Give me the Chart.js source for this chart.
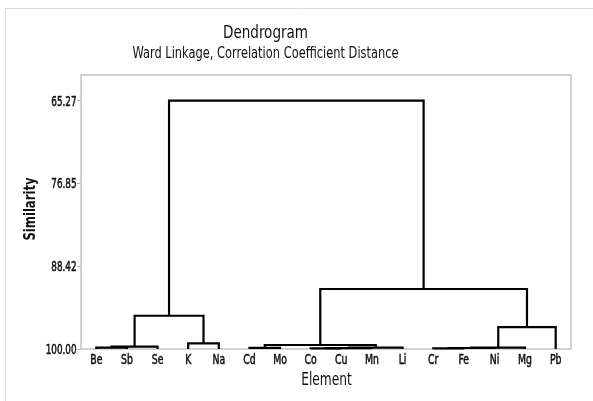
<!DOCTYPE html>
<html>
<head>
<meta charset="utf-8">
<script src="https://cdn.jsdelivr.net/npm/chart.js@4.4.1/dist/chart.umd.min.js"></script>
<style>
  html, body { margin: 0; padding: 0; background: #fff; }
  #wrap { width: 593px; height: 401px; position: relative; }
</style>
</head>
<body>
<div id="wrap"><canvas id="dendro"></canvas></div>
<script>
// leaves in plotted order
const leaves = ["Be", "Sb", "Se", "K", "Na", "Cd", "Mo", "Co", "Cu", "Mn", "Li", "Cr", "Fe", "Ni", "Mg", "Pb"];

// merge steps: node ids 0..15 are leaves, each merge creates node 16, 17, ...
const mergeLeft  = [0, 16, 3, 5, 7, 20, 21, 19, 11, 24, 25, 26, 17, 23, 28];
const mergeRight = [1, 2, 4, 6, 8, 9, 10, 22, 12, 13, 14, 15, 18, 27, 29];
const mergeSim   = [99.82, 99.68, 99.20, 99.85, 99.92, 99.88, 99.80, 99.44, 99.90, 99.86, 99.80, 96.93, 95.35, 91.61, 65.27];

const yTicks = [65.27, 76.85, 88.42, 100.00];

const FONT = "'DejaVu Sans Condensed', 'DejaVu Sans', sans-serif";

// node positions: leaves at similarity 100, merges at midpoint of children
const nodeX = leaves.map((_, i) => i);
const nodeY = leaves.map(() => 100);
const datasets = [];
mergeSim.forEach((s, k) => {
  const l = mergeLeft[k], r = mergeRight[k];
  datasets.push({
    data: [
      { x: nodeX[l], y: nodeY[l] },
      { x: nodeX[l], y: s },
      { x: nodeX[r], y: s },
      { x: nodeX[r], y: nodeY[r] }
    ],
    showLine: true,
    borderColor: "#000",
    borderWidth: 2.2,
    pointRadius: 0,
    fill: false,
    clip: false
  });
  nodeX.push((nodeX[l] + nodeX[r]) / 2);
  nodeY.push(s);
});

// text squeezed along its run (the source graph is narrow-lettered);
// heavy > 0 thickens it a little, like a semibold face
function narrowText(ctx, text, x, y, font, align, sx, heavy) {
  ctx.save();
  ctx.font = font;
  ctx.textAlign = align;
  ctx.translate(x, y);
  ctx.scale(sx, 1);
  ctx.fillText(text, 0, 0);
  if (heavy) {
    ctx.lineWidth = heavy;
    ctx.strokeStyle = ctx.fillStyle;
    ctx.strokeText(text, 0, 0);
  }
  ctx.restore();
}

// background, outer frame, plot box and texts
const decorPlugin = {
  id: "decor",
  beforeDraw(chart) {
    const { ctx, width, height } = chart;
    ctx.save();
    ctx.fillStyle = "#fff";
    ctx.fillRect(0, 0, width, height);
    ctx.strokeStyle = "#dcdcdc";
    ctx.lineWidth = 1;
    ctx.beginPath();
    ctx.moveTo(5.5, height);
    ctx.lineTo(5.5, 8.5);
    ctx.lineTo(width, 8.5);
    ctx.stroke();
    ctx.restore();
  },
  beforeDatasetsDraw(chart) {
    const { ctx, chartArea: { left, right, top, bottom } } = chart;
    ctx.save();
    ctx.strokeStyle = "#c4c4c4";
    ctx.lineWidth = 1.5;
    ctx.strokeRect(left, top, right - left, bottom - top);
    ctx.restore();
  },
  afterDraw(chart) {
    const { ctx, scales: { x, y } } = chart;
    ctx.save();
    ctx.fillStyle = "#111";
    ctx.textBaseline = "alphabetic";

    // tick labels, placed by the chart's scales
    y.ticks.forEach(t => {
      narrowText(ctx, t.value.toFixed(2), 76.5, y.getPixelForValue(t.value) + 5, `14px ${FONT}`, "right", 0.7, 0.5);
    });
    x.ticks.forEach(t => {
      narrowText(ctx, leaves[t.value], x.getPixelForValue(t.value), 363.5, `14px ${FONT}`, "center", 0.74, 0.5);
    });

    narrowText(ctx, "Dendrogram", 265.5, 38, `17.5px ${FONT}`, "center", 0.86, 0);
    narrowText(ctx, "Ward Linkage, Correlation Coefficient Distance", 265.5, 58, `15.5px ${FONT}`, "center", 0.82, 0);
    narrowText(ctx, "Element", 326.5, 385, `17px ${FONT}`, "center", 0.8, 0);

    ctx.translate(35, 209);
    ctx.rotate(-Math.PI / 2);
    narrowText(ctx, "Similarity", 0, 0, `bold 15px ${FONT}`, "center", 0.86, 0);
    ctx.restore();
  }
};

new Chart(document.getElementById("dendro"), {
  type: "scatter",
  data: { datasets },
  options: {
    responsive: true,
    maintainAspectRatio: false,
    animation: false,
    layout: { padding: { left: 0, right: 22, top: 75, bottom: 0 } },
    plugins: {
      legend: { display: false },
      tooltip: { enabled: false },
      title: { display: false }
    },
    scales: {
      x: {
        type: "linear",
        min: -0.5,
        max: leaves.length - 0.5,
        afterBuildTicks: s => { s.ticks = leaves.map((_, i) => ({ value: i })); },
        afterFit: s => { s.height = 52; },
        grid: { display: false, drawTicks: false },
        border: { display: false },
        ticks: { display: false }
      },
      y: {
        type: "linear",
        reverse: true,
        min: 61.7,
        max: 100,
        afterBuildTicks: s => { s.ticks = yTicks.map(v => ({ value: v })); },
        afterFit: s => { s.width = 81; },
        grid: { drawOnChartArea: false, drawTicks: true, tickLength: 4, color: "#b0b0b0" },
        border: { display: false },
        ticks: { display: false }
      }
    }
  },
  plugins: [decorPlugin]
});
</script>
</body>
</html>
